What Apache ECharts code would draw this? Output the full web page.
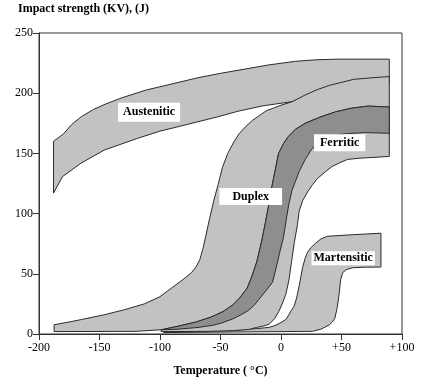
<!DOCTYPE html>
<html>
<head>
<meta charset="utf-8">
<script src="https://cdn.jsdelivr.net/npm/echarts@6/dist/echarts.min.js"></script>
<style>
html,body{margin:0;padding:0;background:#fff;}
#chart{width:431px;height:388px;}
</style>
</head>
<body>
<div id="chart"></div>
<script>
// Axis ticks
const xTicks = [-200, -150, -100, -50, 0, 50, 100];
const yTicks = [0, 50, 100, 150, 200, 250];

// Band boundaries: [temperature °C, impact strength J]
const austeniticUpper = [[-188,160],[-180,166],[-173,174],[-165,180.5],[-155,186.5],[-145,191],[-132,196],[-112,202.5],[-91,207.5],[-68,213],[-50,216.5],[-30,220],[-10,223.5],[12,226.5],[30,227.8],[48,228.3],[89.5,228.3]];
const austeniticLower = [[-188,117],[-180.6,130.7],[-165.4,141.8],[-146,152.8],[-118.5,162.5],[-100,168.5],[-85.3,172.1],[-52.2,180.4],[-35.6,185],[-15,189.5],[9.4,193],[30,200],[60,205],[89.5,208]];

const duplexUpper = [[-187.5,7.7],[-175,10],[-165,12],[-146,16],[-130,20],[-113,25],[-100,31],[-90,38.5],[-80,46],[-74,51],[-70,56],[-67,62],[-64.5,71],[-62,82],[-59,96],[-55.5,111],[-52,124],[-48.5,138],[-44,150],[-39,159.5],[-34.5,166.5],[-29,172.5],[-23.5,177.5],[-12,185.5],[0,190],[9.3,193],[20,198.5],[30,203],[40,206.5],[50,209],[60,211.5],[75,212.8],[89.5,213.8]];
const duplexLower = [[-187.5,2],[-120,2.2],[-99,3.5],[-85,4],[-68,5.5],[-55,7.5],[-48,9.5],[-40,12.5],[-33,16],[-27,19.5],[-22,24],[-18,29],[-14,34],[-10,39],[-7,43],[-4,55],[-1,68],[2,80],[4.5,96],[6.5,108],[9,119],[12,127],[15,135],[20,145],[25,153],[31,160],[40,164.5],[55,166.5],[70,167.3],[89.5,166.7]];

const ferriticUpper = [[-99,3.5],[-85,6.5],[-70,10],[-58,14],[-48,18.5],[-40,24],[-34,30],[-28,38],[-24,48],[-20,60],[-16,77],[-13,92],[-10.5,105],[-8,120],[-5,135],[-2,150],[2,158],[6,164],[12,170],[20,175],[32,180],[45,184.5],[58,187.5],[72,189.3],[89.5,188.5]];
const ferriticLower = [[-99,2],[-60,2.2],[-40,2.8],[-26.5,3.8],[-20,5.5],[-15,6.5],[-10,8],[-5,13],[-1.7,19],[1,25],[4,33],[6.6,45],[9,62],[11,76],[13.5,90],[15,102],[18,111],[22,118],[26,124],[30,129],[37,135],[42,139],[48,142],[55,145],[65,146],[89.5,147.5]];

const martensiticUpper = [[-97,1.5],[-40,3],[-20,4.5],[-10,5.5],[-5,7],[0,9.5],[3.9,12],[6.5,16],[8.5,19.5],[10.8,23],[12.5,28.5],[13.8,34],[15,40],[16.5,48],[18,56],[20,63],[22,68],[25,72],[28.7,75.5],[33,79],[38.4,81.2],[60,82.5],[82.6,83.7]];
const martensiticLower = [[-97,1.2],[26,2.2],[33,4],[39.8,7.5],[42.5,10],[44.5,13],[46.5,22],[48,33],[49.3,45],[51,51],[54,53.5],[59,55],[70,55.5],[82.6,55.6]];

// Labels
const labelNames = ['Austenitic', 'Duplex', 'Ferritic', 'Martensitic'];
const labelT = [-109, -25, 48.5, 51.4];
const labelV = [184.2, 114.1, 158.8, 63.0];

// styles
const LIGHT = '#c2c2c2';
const DARK = '#8e8e8e';
const STROKE = '#2b2b2b';
const labelPad = [[4,5,3,5],[3,13,2,13],[3,6,2,6],[1,2,1,2]];

function bandPolygon(upper, lower) {
  return upper.concat(lower.slice().reverse());
}

function bandSeries(name, upper, lower, fill, z) {
  const pts = bandPolygon(upper, lower);
  return {
    type: 'custom',
    name: name,
    coordinateSystem: 'cartesian2d',
    z: z,
    silent: true,
    data: pts,
    encode: { x: 0, y: 1 },
    renderItem: function (params, api) {
      if (params.dataIndex !== 0) return null;
      const coords = pts.map(p => api.coord(p));
      return {
        type: 'polygon',
        shape: { points: coords },
        style: { fill: fill, stroke: STROKE, lineWidth: 1 }
      };
    }
  };
}

const chart = echarts.init(document.getElementById('chart'), null, { renderer: 'canvas' });

const labelData = labelNames.map((n, i) => [labelT[i], labelV[i], n]);

const option = {
  animation: false,
  backgroundColor: '#fff',
  title: {
    text: 'Impact strength (KV), (J)',
    left: 18, top: 3, padding: 0,
    textStyle: { fontFamily: 'Liberation Serif', fontWeight: 'bold', fontSize: 12, color: '#000' }
  },
  grid: { left: 39, right: 29, top: 33, bottom: 54, show: true, borderColor: '#333', borderWidth: 1, backgroundColor: 'transparent' },
  xAxis: {
    type: 'value', min: xTicks[0], max: xTicks[xTicks.length - 1], interval: 50,
    name: 'Temperature ( °C)', nameLocation: 'middle', nameGap: 31,
    nameTextStyle: { fontFamily: 'Liberation Serif', fontWeight: 'bold', fontSize: 12, color: '#000' },
    axisLine: { onZero: false, lineStyle: { color: '#333', width: 1 } },
    axisTick: { length: 6, lineStyle: { color: '#333' } },
    axisLabel: {
      margin: 8, color: '#000', fontFamily: 'Liberation Serif', fontSize: 12,
      formatter: v => (v > 0 ? '+' + v : String(v))
    },
    splitLine: { show: false }
  },
  yAxis: {
    type: 'value', min: yTicks[0], max: yTicks[yTicks.length - 1], interval: 50,
    axisLine: { show: true, onZero: false, lineStyle: { color: '#333', width: 1 } },
    axisTick: { show: true, length: 6, lineStyle: { color: '#333' } },
    axisLabel: { margin: 6, color: '#000', fontFamily: 'Liberation Serif', fontSize: 12 },
    splitLine: { show: false }
  },
  series: [
    bandSeries('Austenitic', austeniticUpper, austeniticLower, LIGHT, 2),
    bandSeries('Martensitic', martensiticUpper, martensiticLower, LIGHT, 3),
    bandSeries('Duplex', duplexUpper, duplexLower, LIGHT, 4),
    bandSeries('Ferritic', ferriticUpper, ferriticLower, LIGHT, 5),
    bandSeries('Duplex+Ferritic', ferriticUpper, duplexLower.filter(p => p[0] >= -99), DARK, 6),
    {
      type: 'custom',
      coordinateSystem: 'cartesian2d',
      z: 10,
      silent: true,
      data: labelData,
      encode: { x: 0, y: 1 },
      renderItem: function (params, api) {
        const c = api.coord([api.value(0), api.value(1)]);
        const i = params.dataIndex;
        return {
          type: 'text',
          x: c[0], y: c[1],
          style: {
            text: labelNames[i],
            font: 'bold 12px "Liberation Serif"',
            fill: '#000',
            align: 'center',
            verticalAlign: 'middle',
            backgroundColor: '#fff',
            padding: labelPad[i]
          }
        };
      }
    }
  ]
};
chart.setOption(option);
</script>
</body>
</html>
